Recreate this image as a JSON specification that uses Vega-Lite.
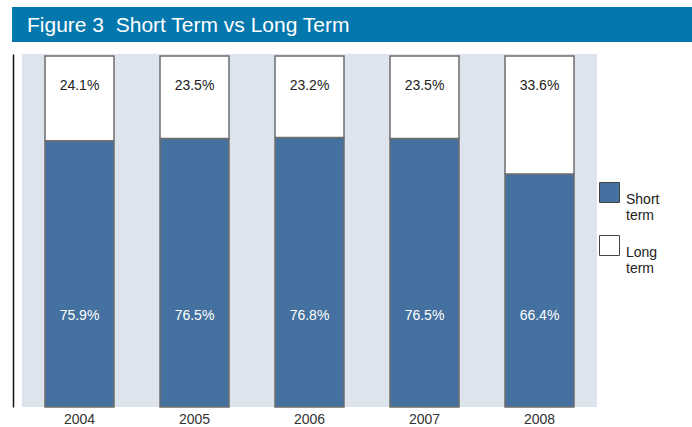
{
  "$schema": "https://vega.github.io/schema/vega-lite/v6.json",
  "padding": {"left": 12, "top": 5, "right": 0, "bottom": 0},
  "background": "white",
  "spacing": 8,
  "config": {"font": "Liberation Sans"},
  "vconcat": [
    {
      "width": 670,
      "height": 15,
      "view": {"fill": "#0477ad", "stroke": "#0477ad", "strokeWidth": 20, "strokeJoin": "miter"},
      "title": {
        "text": "Figure 3\u00a0 Short Term vs Long Term",
        "anchor": "start",
        "frame": "group",
        "orient": "top",
        "offset": -19,
        "dx": 5,
        "color": "white",
        "fontSize": 21,
        "fontWeight": "normal",
        "font": "Liberation Sans"
      },
      "data": {"values": []},
      "mark": "point"
    },
    {
      "width": 575,
      "height": 353,
      "view": {"fill": "#dde4ee", "stroke": null},
      "data": {
        "values": [
          {"year": "2004", "type": "Short term", "value": 0.759},
          {"year": "2004", "type": "Long term", "value": 0.241},
          {"year": "2005", "type": "Short term", "value": 0.765},
          {"year": "2005", "type": "Long term", "value": 0.235},
          {"year": "2006", "type": "Short term", "value": 0.768},
          {"year": "2006", "type": "Long term", "value": 0.232},
          {"year": "2007", "type": "Short term", "value": 0.765},
          {"year": "2007", "type": "Long term", "value": 0.235},
          {"year": "2008", "type": "Short term", "value": 0.664},
          {"year": "2008", "type": "Long term", "value": 0.336}
        ]
      },
      "encoding": {
        "x": {
          "field": "year",
          "type": "nominal",
          "scale": {"paddingInner": 0.4, "paddingOuter": 0.2},
          "axis": {
            "title": null,
            "labelAngle": 0,
            "labelFontSize": 14,
            "labelColor": "#333333",
            "labelPadding": 5,
            "ticks": false,
            "domain": false,
            "grid": false
          }
        }
      },
      "layer": [
        {
          "mark": {"type": "bar", "stroke": "#6e6e6e", "strokeWidth": 1.5},
          "encoding": {
            "y": {
              "field": "value",
              "type": "quantitative",
              "stack": "zero",
              "scale": {"domain": [0, 1.006], "nice": false},
              "axis": {
                "title": null,
                "labels": false,
                "ticks": false,
                "grid": false,
                "domain": true,
                "domainColor": "#111111",
                "domainWidth": 1.5,
                "offset": 9
              }
            },
            "order": {"field": "type", "sort": "descending"},
            "color": {
              "field": "type",
              "type": "nominal",
              "scale": {"domain": ["Short term", "Long term"], "range": ["#44719f", "#ffffff"]},
              "legend": {
                "title": null,
                "orient": "none",
                "legendX": 577,
                "legendY": 165,
                "symbolType": "square",
                "symbolSize": 400,
                "symbolStrokeColor": "#444444",
                "symbolStrokeWidth": 1,
                "symbolOpacity": 1,
                "labelFontSize": 14,
                "labelColor": "#222222",
                "labelExpr": "split(datum.label, ' ')",
                "labelBaseline": "top",
                "labelOffset": 6,
                "rowPadding": 10
              }
            }
          }
        },
        {
          "transform": [{"filter": "datum.type == 'Short term'"}],
          "mark": {"type": "text", "color": "white", "fontSize": 14, "baseline": "middle"},
          "encoding": {
            "y": {"datum": 0.258, "type": "quantitative"},
            "text": {"field": "value", "type": "quantitative", "format": ".1%"}
          }
        },
        {
          "transform": [{"filter": "datum.type == 'Long term'"}],
          "mark": {"type": "text", "color": "#222222", "fontSize": 14, "baseline": "middle"},
          "encoding": {
            "y": {"datum": 0.915, "type": "quantitative"},
            "text": {"field": "value", "type": "quantitative", "format": ".1%"}
          }
        }
      ]
    }
  ]
}
